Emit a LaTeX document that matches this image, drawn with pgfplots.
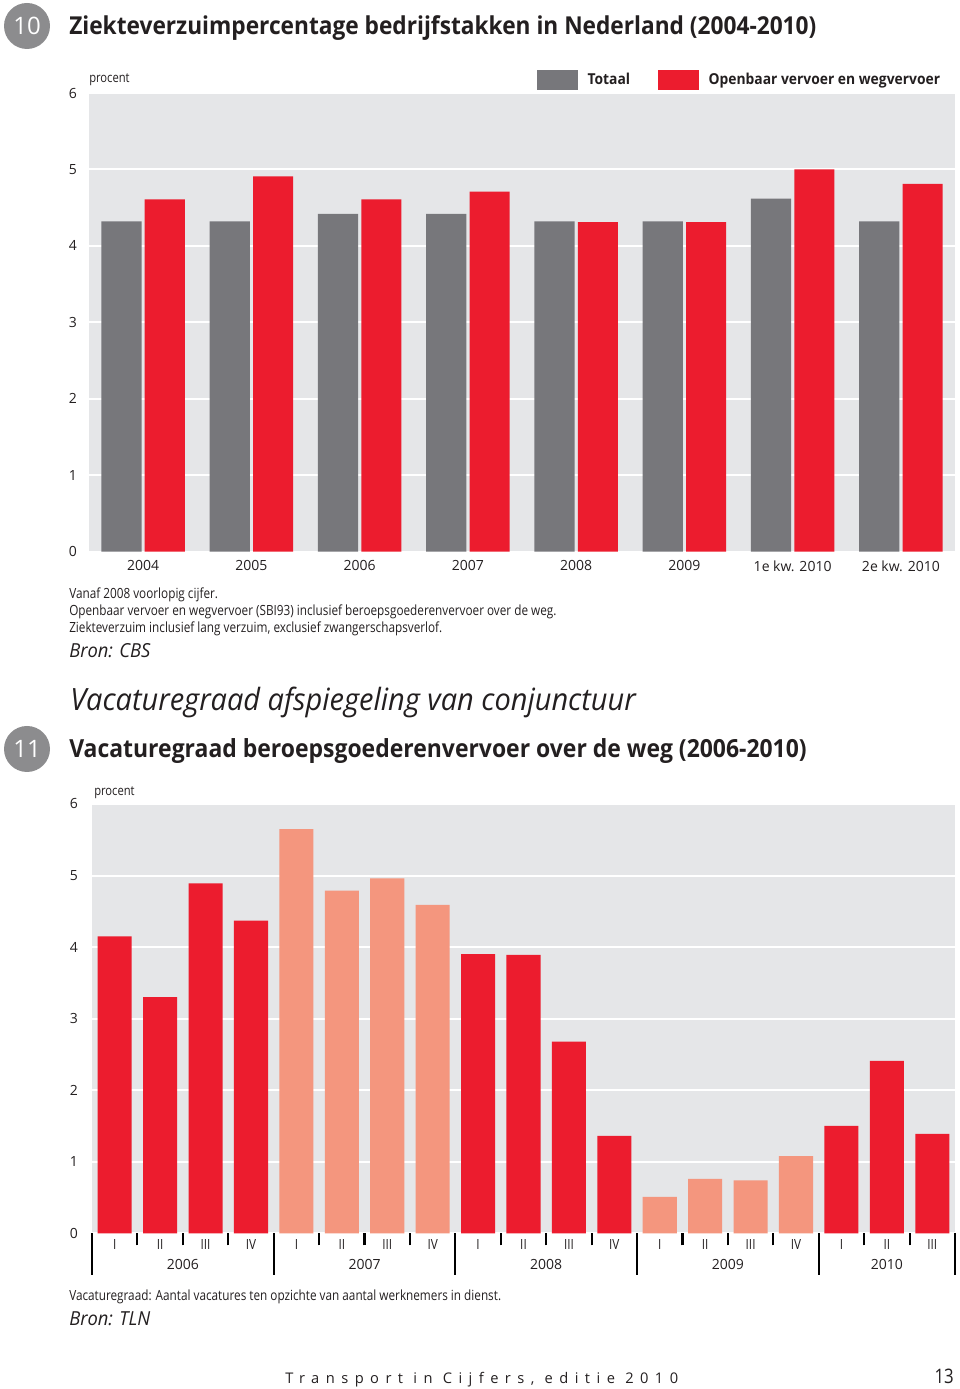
\documentclass[border=0pt]{standalone}
\usepackage{fontspec}
\setmainfont{Open Sans}
\newfontfamily\condfont[FakeStretch=0.84]{Open Sans}
\newfontfamily\narrowfont[FakeStretch=0.92]{Open Sans}
\newfontfamily\bronfont[FakeStretch=0.95]{Open Sans}
\newfontfamily\headfont[FakeStretch=0.945]{Open Sans}
\usepackage{pgfplots}
\pgfplotsset{compat=1.18}
\definecolor{bggrey}{HTML}{E5E6E8}
\definecolor{totgrey}{HTML}{77777B}
\definecolor{ovred}{HTML}{EC1C2E}
\definecolor{salmon}{HTML}{F4967E}
\definecolor{circgrey}{HTML}{8C8C8E}
\definecolor{txt}{HTML}{231F20}
\begin{document}
\begin{tikzpicture}
\begin{scope}[x=0.75pt,y=0.75pt]
\path[use as bounding box] (0,0) rectangle (960,1389);
% ---------- chart 10 header ----------
\fill[circgrey] (27,1363) circle [radius=17.25pt];
\node[white, font=\fontsize{18}{18}\selectfont] at (27,1363) {10};
\node[anchor=base west, inner sep=0, text=txt, font=\bfseries\narrowfont\fontsize{18.5}{20}\selectfont] at (69,1354) {Ziekteverzuimpercentage bedrijfstakken in Nederland (2004-2010)};
\node[anchor=base west, inner sep=0, text=txt, font=\condfont\fontsize{10}{12}\selectfont] at (89,1306) {procent};
\node[anchor=base west, inner sep=0, text=txt, font=\condfont\fontsize{10.5}{12}\selectfont] at (69,790) {Vanaf 2008 voorlopig cijfer.};
\node[anchor=base west, inner sep=0, text=txt, font=\condfont\fontsize{10.5}{12}\selectfont] at (69,773) {Openbaar vervoer en wegvervoer (SBI93) inclusief beroepsgoederenvervoer over de weg.};
\node[anchor=base west, inner sep=0, text=txt, font=\condfont\fontsize{10.5}{12}\selectfont] at (69,756) {Ziekteverzuim inclusief lang verzuim, exclusief zwangerschapsverlof.};
\node[anchor=base west, inner sep=0, text=txt, font=\bronfont\itshape\fontsize{14.5}{16}\selectfont] at (69,731) {Bron: CBS};
% ---------- section heading ----------
\node[anchor=base west, inner sep=0, text=txt, font=\headfont\itshape\fontsize{23}{25}\selectfont] at (70,678) {Vacaturegraad afspiegeling van conjunctuur};
% ---------- chart 11 header ----------
\fill[circgrey] (27,640) circle [radius=17.25pt];
\node[white, font=\fontsize{18}{18}\selectfont] at (27,640) {11};
\node[anchor=base west, inner sep=0, text=txt, font=\bfseries\narrowfont\fontsize{18.7}{20}\selectfont] at (69,631) {Vacaturegraad beroepsgoederenvervoer over de weg (2006-2010)};
\node[anchor=base west, inner sep=0, text=txt, font=\condfont\fontsize{10}{12}\selectfont] at (94,593) {procent};
\node[anchor=base west, inner sep=0, text=txt, font=\condfont\fontsize{10.5}{12}\selectfont] at (69,88) {Vacaturegraad: Aantal vacatures ten opzichte van aantal werknemers in dienst.};
\node[anchor=base west, inner sep=0, text=txt, font=\bronfont\itshape\fontsize{14.5}{16}\selectfont] at (69,63) {Bron: TLN};
% ---------- footer ----------
\node[anchor=base west, inner sep=0, text=txt, font=\addfontfeatures{LetterSpace=44}\fontsize{11}{12}\selectfont] at (285,5) {Transport in Cijfers, editie 2010};
\node[anchor=base east, inner sep=0, text=txt, font=\condfont\fontsize{15}{16}\selectfont] at (954,5) {13};
\end{scope}
% ---------- chart 10 ----------
\begin{axis}[
  at={(66.75pt,627.975pt)}, anchor=south west, scale only axis,
  width=649.5pt, height=344pt,
  xmin=-0.5, xmax=7.5, ymin=0, ymax=6,
  ytick={0,...,6}, xtick={0,...,7},
  xticklabels={2004,2005,2006,2007,2008,2009,1e kw. 2010,2e kw. 2010},
  axis line style={draw=none}, tick style={draw=none},
  axis background/.style={fill=bggrey},
  ymajorgrids, grid style={white, line width=1.5pt},
  ticklabel style={font=\fontsize{10.5}{12}\selectfont, text=txt},
  /pgf/number format/assume math mode=true,
  yticklabel style={xshift=-5.5pt},
  xticklabel style={yshift=1pt},
  ybar, bar width=0.37,
  legend columns=2,
  legend style={at={(1,1)}, anchor=south east, xshift=-6pt, yshift=0pt, draw=none, fill=none,
    font=\bfseries\narrowfont\fontsize{11.3}{12}\selectfont, text=txt,
    /tikz/every odd column/.append style={column sep=5pt},
    /tikz/every even column/.append style={column sep=19pt}},
]
\addplot[fill=totgrey, draw=none, bar shift=-0.2,
  legend image code/.code={\fill[totgrey] (0pt,-7.5pt) rectangle (30.75pt,7.5pt);}]
  coordinates {(0,4.32) (1,4.32) (2,4.42) (3,4.42) (4,4.32) (5,4.32) (6,4.62) (7,4.32)};
\addlegendentry{Totaal}
\addplot[fill=ovred, draw=none, bar shift=0.2,
  legend image code/.code={\fill[ovred] (0pt,-7.5pt) rectangle (30.75pt,7.5pt);}]
  coordinates {(0,4.61) (1,4.91) (2,4.61) (3,4.71) (4,4.31) (5,4.31) (6,5.0) (7,4.81)};
\addlegendentry{Openbaar vervoer en wegvervoer}
\end{axis}
% ---------- chart 11 ----------
\begin{axis}[
  at={(69pt,116.775pt)}, anchor=south west, scale only axis,
  width=647.25pt, height=322pt,
  clip=false,
  xmin=-0.5, xmax=18.5, ymin=0, ymax=6,
  ytick={0,...,6}, xtick={0,...,18},
  xticklabels={I,II,III,IV,I,II,III,IV,I,II,III,IV,I,II,III,IV,I,II,III},
  axis line style={draw=none}, ytick style={draw=none},
  xtick pos=bottom,
  major tick length=0pt,
  minor xtick={0.5,1.5,2.5,4.5,5.5,6.5,8.5,9.5,10.5,12.5,13.5,14.5,16.5,17.5},
  minor tick length=9pt,
  tick align=outside,
  minor x tick style={draw=black, line width=1.6pt},
  major x tick style={draw=black, line width=1.6pt},
  extra x ticks={-0.5,3.5,7.5,11.5,15.5,18.5},
  extra x tick labels={},
  extra x tick style={major tick length=31pt, xmajorgrids=false},
  axis background/.style={fill=bggrey},
  ymajorgrids, grid style={white, line width=1.5pt},
  ticklabel style={font=\fontsize{10.5}{12}\selectfont, text=txt},
  xticklabel style={font=\condfont\fontsize{10.5}{12}\selectfont, yshift=-1pt},
  /pgf/number format/assume math mode=true,
  yticklabel style={xshift=-7pt},
  ybar, bar width=0.75, bar shift=0pt,
]
\addplot[fill=ovred, draw=none]
  coordinates {(0,4.15) (1,3.30) (2,4.89) (3,4.37) (8,3.90) (9,3.89) (10,2.68) (11,1.36) (16,1.50) (17,2.41) (18,1.39)};
\addplot[fill=salmon, draw=none]
  coordinates {(4,5.65) (5,4.79) (6,4.96) (7,4.59) (12,0.51) (13,0.76) (14,0.74) (15,1.08)};
\node[anchor=base, text=txt, font=\fontsize{10.5}{12}\selectfont] at ([yshift=-27pt]axis cs:1.5,0) {2006};
\node[anchor=base, text=txt, font=\fontsize{10.5}{12}\selectfont] at ([yshift=-27pt]axis cs:5.5,0) {2007};
\node[anchor=base, text=txt, font=\fontsize{10.5}{12}\selectfont] at ([yshift=-27pt]axis cs:9.5,0) {2008};
\node[anchor=base, text=txt, font=\fontsize{10.5}{12}\selectfont] at ([yshift=-27pt]axis cs:13.5,0) {2009};
\node[anchor=base, text=txt, font=\fontsize{10.5}{12}\selectfont] at ([yshift=-27pt]axis cs:17,0) {2010};
\end{axis}
\end{tikzpicture}
\end{document}
